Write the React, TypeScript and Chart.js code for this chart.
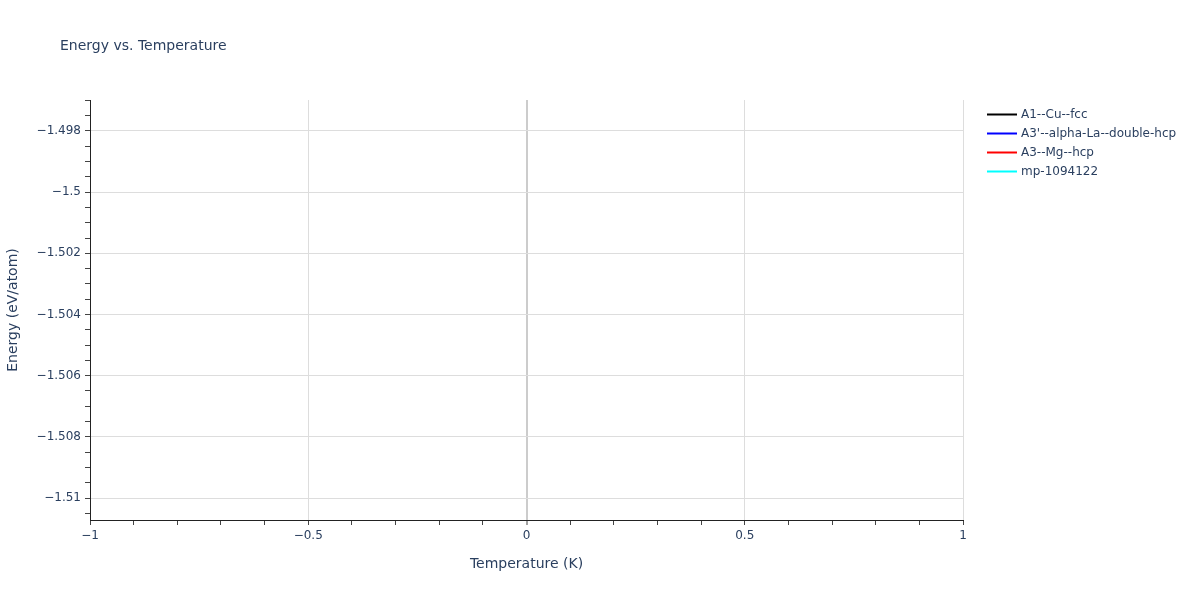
import React, { useEffect, useRef } from 'react';
import { Chart, ChartConfiguration, registerables } from 'chart.js';

Chart.register(...registerables);

// Series shown in the legend (no points were computed for any of them)
const seriesNames = ['A1--Cu--fcc', "A3'--alpha-La--double-hcp", 'A3--Mg--hcp', 'mp-1094122'];
const a1CuFcc: { x: number; y: number }[] = [];
const a3AlphaLaDhcp: { x: number; y: number }[] = [];
const a3MgHcp: { x: number; y: number }[] = [];
const mp1094122: { x: number; y: number }[] = [];
const seriesData = [a1CuFcc, a3AlphaLaDhcp, a3MgHcp, mp1094122];
const seriesColors = ['#000000', '#0000ff', '#ff0000', '#00ffff'];

// Axes
const xRange = [-1, 1];
const yRange = [-1.510719, -1.496987];
const xMajorTicks = [-1, -0.5, 0, 0.5, 1];
const yMajorTicks = [-1.51, -1.508, -1.506, -1.504, -1.502, -1.5, -1.498];
const xMinorStep = 0.1;
const yMinorStep = 0.0005;

const FONT = "'DejaVu Sans', Verdana, sans-serif";
const TEXT = '#2a3f5f';

const fmt = (v: number) => {
  const s = String(parseFloat(v.toPrecision(10)));
  return s.replace('-', '\u2212');
};

const buildTicks = (min: number, max: number, step: number, majors: number[]) => {
  const ticks: { value: number; major: boolean }[] = [];
  const start = Math.ceil(min / step - 1e-6);
  const end = Math.floor(max / step + 1e-6);
  for (let i = start; i <= end; i++) {
    const v = parseFloat((i * step).toPrecision(10));
    ticks.push({ value: v, major: majors.some((m) => Math.abs(m - v) < step / 100) });
  }
  return ticks;
};

const overlay = {
  id: 'overlay',
  afterDraw(chart: Chart) {
    const ctx = chart.ctx;
    ctx.save();
    ctx.fillStyle = TEXT;
    ctx.textBaseline = 'middle';
    ctx.font = `14px ${FONT}`;
    ctx.fillText('Energy vs. Temperature', 60, 46);

    ctx.font = `12px ${FONT}`;
    chart.data.datasets.forEach((ds, i) => {
      const y = 114.5 + i * 19;
      ctx.strokeStyle = ds.borderColor as string;
      ctx.lineWidth = 2;
      ctx.beginPath();
      ctx.moveTo(987, y);
      ctx.lineTo(1017, y);
      ctx.stroke();
      ctx.fillStyle = TEXT;
      ctx.fillText(ds.label as string, 1021, y + 0.5);
    });
    ctx.restore();
  },
};

const App: React.FC = () => {
  const canvasRef = useRef<HTMLCanvasElement | null>(null);
  const chartRef = useRef<Chart | null>(null);

  useEffect(() => {
    if (!canvasRef.current) return;
    if (chartRef.current) chartRef.current.destroy();

    const gridColor = (c: any) => {
      if (!c.tick || !c.tick.major) return 'rgba(0,0,0,0)';
      return Math.abs(c.tick.value) < 1e-9 ? '#cccccc' : '#dddddd';
    };
    const gridWidth = (c: any) => (c.tick && c.tick.major && Math.abs(c.tick.value) < 1e-9 ? 2 : 1);

    const config: ChartConfiguration<'line'> = {
      type: 'line',
      data: {
        datasets: seriesNames.map((name, i) => ({
          label: name,
          data: seriesData[i],
          borderColor: seriesColors[i],
          backgroundColor: seriesColors[i],
          borderWidth: 2,
          pointRadius: 0,
        })),
      },
      options: {
        responsive: true,
        maintainAspectRatio: false,
        animation: false,
        layout: { padding: { left: 0, right: 237, top: 100, bottom: 0 } },
        plugins: {
          legend: { display: false },
          title: { display: false },
          tooltip: { enabled: false },
        },
        scales: {
          x: {
            type: 'linear',
            min: xRange[0],
            max: xRange[1],
            afterFit: (s) => {
              s.height = 80;
            },
            afterBuildTicks: (s) => {
              s.ticks = buildTicks(xRange[0], xRange[1], xMinorStep, xMajorTicks) as any;
            },
            ticks: {
              autoSkip: false,
              maxRotation: 0,
              padding: 4,
              color: TEXT,
              font: { family: FONT, size: 12 },
              callback: (v, i, ticks) => ((ticks[i] as any).major ? fmt(Number(v)) : ''),
            },
            grid: {
              color: gridColor,
              lineWidth: gridWidth,
              tickColor: '#444',
              tickWidth: 1,
              tickLength: 5,
            },
            border: { display: true, color: '#222', width: 1 },
            title: {
              display: true,
              text: 'Temperature (K)',
              color: TEXT,
              font: { family: FONT, size: 14 },
              padding: { top: 0, bottom: 27 },
            },
          },
          y: {
            type: 'linear',
            min: yRange[0],
            max: yRange[1],
            afterFit: (s) => {
              s.width = 90;
            },
            afterBuildTicks: (s) => {
              s.ticks = buildTicks(yRange[0], yRange[1], yMinorStep, yMajorTicks) as any;
            },
            ticks: {
              autoSkip: false,
              padding: 4,
              color: TEXT,
              font: { family: FONT, size: 12 },
              callback: (v, i, ticks) => ((ticks[i] as any).major ? fmt(Number(v)) : ''),
            },
            grid: {
              color: gridColor,
              lineWidth: 1,
              tickColor: '#444',
              tickWidth: 1,
              tickLength: 5,
            },
            border: { display: true, color: '#222', width: 1 },
            title: {
              display: true,
              text: 'Energy (eV/atom)',
              color: TEXT,
              font: { family: FONT, size: 14 },
              padding: { top: 5, bottom: 0 },
            },
          },
        },
      },
      plugins: [overlay],
    };

    chartRef.current = new Chart(canvasRef.current, config);
    return () => {
      if (chartRef.current) {
        chartRef.current.destroy();
        chartRef.current = null;
      }
    };
  }, []);

  return (
    <div style={{ position: 'absolute', left: 0, top: 0, width: 1200, height: 600, background: '#fff' }}>
      <canvas ref={canvasRef} />
    </div>
  );
};

export default App;
